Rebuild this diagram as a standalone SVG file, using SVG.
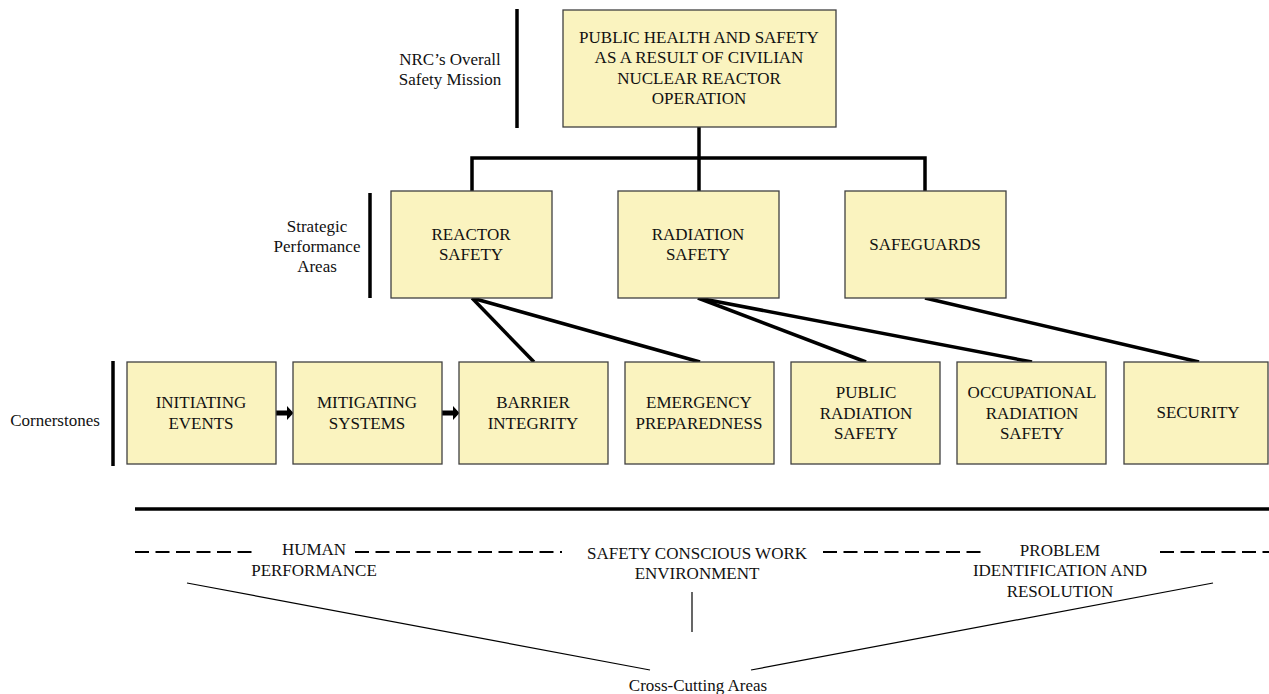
<svg xmlns="http://www.w3.org/2000/svg" width="1269" height="694" viewBox="0 0 1269 694">
<style>
.box{fill:#FAF3BF;stroke:#404040;stroke-width:1.3}
text{font-family:"Liberation Serif","Times New Roman",serif;font-size:17px;fill:#111;text-anchor:middle}
.thick{stroke:#000;stroke-width:3.5;fill:none}
.thin{stroke:#000;stroke-width:1.2;fill:none}
.dash{stroke:#000;stroke-width:2.2;stroke-dasharray:14 6.5;fill:none}
.arrow{fill:#000}
</style>
<rect width="1269" height="694" fill="#fff"/>

<g id="labels">
<text x="450" y="65">NRC’s Overall</text>
<text x="450" y="85">Safety Mission</text>
<text x="317" y="232">Strategic</text>
<text x="317" y="252">Performance</text>
<text x="317" y="272">Areas</text>
<text x="55" y="426">Cornerstones</text>
<text x="698" y="691">Cross-Cutting Areas</text>
</g>

<g id="dividers">
<line class="thick" x1="517" y1="9" x2="517" y2="128"/>
<line class="thick" x1="370" y1="193" x2="370" y2="298"/>
<line class="thick" x1="113" y1="361" x2="113" y2="466"/>
<line class="thick" x1="135" y1="509" x2="1269" y2="509"/>
</g>

<g id="connectors">
<polyline class="thick" points="699,127 699,158"/>
<polyline class="thick" points="472,191 472,158 925,158 925,191"/>
<line class="thick" x1="699" y1="158" x2="699" y2="191"/>
<line class="thick" x1="472" y1="298" x2="534" y2="362"/>
<line class="thick" x1="472" y1="298" x2="700" y2="362"/>
<line class="thick" x1="698" y1="298" x2="866" y2="362"/>
<line class="thick" x1="698" y1="298" x2="1032" y2="362"/>
<line class="thick" x1="925" y1="298" x2="1199" y2="362"/>
<path class="arrow" d="M276,410.5 H287 V406 L293.5,413 L287,420 V415.5 H276 Z"/>
<path class="arrow" d="M442,410.5 H453 V406 L459.5,413 L453,420 V415.5 H442 Z"/>
</g>

<g id="cross-cutting">
<line class="dash" x1="135" y1="552" x2="256" y2="552"/>
<line class="dash" x1="355" y1="552" x2="562" y2="552"/>
<line class="dash" x1="823" y1="552" x2="983" y2="552"/>
<line class="dash" x1="1160" y1="552" x2="1269" y2="552"/>
<text x="314" y="555">HUMAN</text>
<text x="314" y="576">PERFORMANCE</text>
<text x="697" y="559">SAFETY CONSCIOUS WORK</text>
<text x="697" y="579">ENVIRONMENT</text>
<text x="1060" y="556">PROBLEM</text>
<text x="1060" y="576">IDENTIFICATION AND</text>
<text x="1060" y="597">RESOLUTION</text>
<line class="thin" x1="187" y1="583" x2="650" y2="670"/>
<line class="thin" x1="692" y1="592" x2="692" y2="632"/>
<line class="thin" x1="751" y1="670" x2="1213" y2="583"/>
</g>

<g id="mission">
<rect class="box" x="563" y="10" width="273" height="117"/>
<text x="699" y="43">PUBLIC HEALTH AND SAFETY</text>
<text x="699" y="63">AS A RESULT OF CIVILIAN</text>
<text x="699" y="84">NUCLEAR REACTOR</text>
<text x="699" y="104">OPERATION</text>
</g>

<g id="reactor-safety">
<rect class="box" x="391" y="191" width="161" height="107"/>
<text x="471" y="240">REACTOR</text>
<text x="471" y="260">SAFETY</text>
</g>
<g id="radiation-safety">
<rect class="box" x="618" y="191" width="161" height="107"/>
<text x="698" y="240">RADIATION</text>
<text x="698" y="260">SAFETY</text>
</g>
<g id="safeguards">
<rect class="box" x="845" y="191" width="161" height="107"/>
<text x="925" y="250">SAFEGUARDS</text>
</g>

<g id="initiating-events">
<rect class="box" x="127" y="362" width="149" height="102"/>
<text x="201" y="408">INITIATING</text>
<text x="201" y="429">EVENTS</text>
</g>
<g id="mitigating-systems">
<rect class="box" x="293" y="362" width="149" height="102"/>
<text x="367" y="408">MITIGATING</text>
<text x="367" y="429">SYSTEMS</text>
</g>
<g id="barrier-integrity">
<rect class="box" x="459" y="362" width="149" height="102"/>
<text x="533" y="408">BARRIER</text>
<text x="533" y="429">INTEGRITY</text>
</g>
<g id="emergency-preparedness">
<rect class="box" x="625" y="362" width="149" height="102"/>
<text x="699" y="408">EMERGENCY</text>
<text x="699" y="429">PREPAREDNESS</text>
</g>
<g id="public-radiation-safety">
<rect class="box" x="791" y="362" width="149" height="102"/>
<text x="866" y="398">PUBLIC</text>
<text x="866" y="419">RADIATION</text>
<text x="866" y="439">SAFETY</text>
</g>
<g id="occupational-radiation-safety">
<rect class="box" x="957" y="362" width="149" height="102"/>
<text x="1032" y="398">OCCUPATIONAL</text>
<text x="1032" y="419">RADIATION</text>
<text x="1032" y="439">SAFETY</text>
</g>
<g id="security">
<rect class="box" x="1124" y="362" width="144" height="102"/>
<text x="1198" y="418">SECURITY</text>
</g>
</svg>
